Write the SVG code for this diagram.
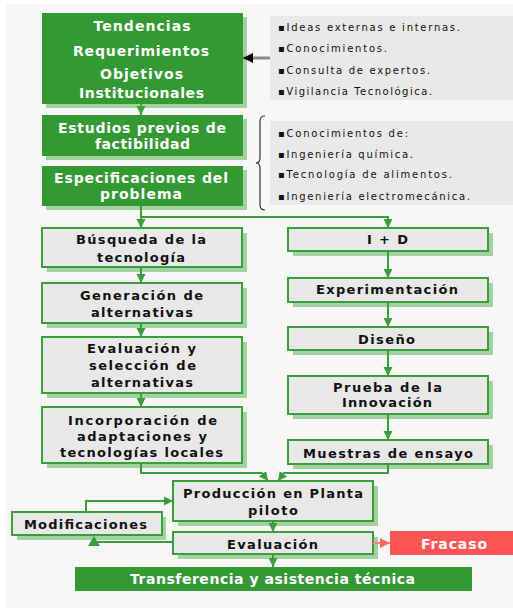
<svg xmlns="http://www.w3.org/2000/svg" width="513" height="610" viewBox="0 0 513 610">
<style>
.bg{fill:#f7f7f7}
.sh{fill:#a2d2a2}
.gbox{fill:#339933}
.box{fill:#e8e8e8;stroke:#3d9d3d;stroke-width:2}
.info{fill:#e9e9e9}
.wt{font-family:"DejaVu Sans",Verdana,sans-serif;font-weight:bold;font-size:14px;fill:#ffffff;text-anchor:middle}
.bt{font-family:"DejaVu Sans",Verdana,sans-serif;font-weight:bold;font-size:13px;fill:#111111;text-anchor:middle}
.it{font-family:"DejaVu Sans",Verdana,sans-serif;font-size:10px;fill:#111111}
.c{fill:none;stroke:#3d9d3d;stroke-width:2}
.ah{fill:#3d9d3d}
</style>
<defs>
<marker id="ag" viewBox="0 0 10 10" refX="10" refY="5" markerWidth="9" markerHeight="10" markerUnits="userSpaceOnUse" orient="auto"><path d="M0,0 L10,5 L0,10 z" fill="#3d9d3d"/></marker>
<marker id="ak" viewBox="0 0 10 10" refX="10" refY="5" markerWidth="12" markerHeight="10" markerUnits="userSpaceOnUse" orient="auto"><path d="M0,0 L10,5 L0,10 z" fill="#000000"/></marker>
<marker id="ar" viewBox="0 0 10 10" refX="10" refY="5" markerWidth="12" markerHeight="10" markerUnits="userSpaceOnUse" orient="auto"><path d="M0,0 L10,5 L0,10 z" fill="#ff6666"/></marker>
</defs>
<rect class="bg" x="6" y="4" width="507" height="604"/>

<g id="n-tendencias">
<rect class="sh" x="46" y="17" width="201" height="91"/>
<rect class="gbox" x="42" y="13" width="201" height="91"/>
<text class="wt" x="142" y="31" textLength="97" lengthAdjust="spacing">Tendencias</text>
<text class="wt" x="141" y="56" textLength="136" lengthAdjust="spacing">Requerimientos</text>
<text class="wt" x="141.5" y="79" textLength="83" lengthAdjust="spacing">Objetivos</text>
<text class="wt" x="141.5" y="98" textLength="125" lengthAdjust="spacing">Institucionales</text>
</g>

<g id="n-fuentes">
<rect class="info" x="270" y="16" width="243" height="84"/>
<text class="it" x="278" y="30.5" textLength="182" lengthAdjust="spacing">▪Ideas externas e internas.</text>
<text class="it" x="278" y="52" textLength="109" lengthAdjust="spacing">▪Conocimientos.</text>
<text class="it" x="278" y="73.5" textLength="152" lengthAdjust="spacing">▪Consulta de expertos.</text>
<text class="it" x="278" y="95" textLength="154" lengthAdjust="spacing">▪Vigilancia Tecnológica.</text>
</g>

<g id="n-estudios">
<rect class="sh" x="46" y="119" width="201" height="41"/>
<rect class="gbox" x="42" y="115" width="201" height="41"/>
<text class="wt" x="142" y="133" textLength="168" lengthAdjust="spacing">Estudios previos de</text>
<text class="wt" x="142.5" y="148.5" textLength="95" lengthAdjust="spacing">factibilidad</text>
</g>

<g id="n-especificaciones">
<rect class="sh" x="46" y="170" width="201" height="40"/>
<rect class="gbox" x="42" y="166" width="201" height="40"/>
<text class="wt" x="141" y="183" textLength="174" lengthAdjust="spacing">Especificaciones del</text>
<text class="wt" x="141" y="199" textLength="82" lengthAdjust="spacing">problema</text>
</g>

<g id="n-conocimientos">
<rect class="info" x="270" y="121" width="243" height="84"/>
<text class="it" x="278" y="136.5" textLength="130" lengthAdjust="spacing">▪Conocimientos de:</text>
<text class="it" x="278" y="157.5" textLength="135" lengthAdjust="spacing">▪Ingeniería química.</text>
<text class="it" x="278" y="177.5" textLength="174" lengthAdjust="spacing">▪Tecnología de alimentos.</text>
<text class="it" x="278" y="200" textLength="192" lengthAdjust="spacing">▪Ingeniería electromecánica.</text>
</g>

<g id="n-busqueda">
<rect class="sh" x="47" y="233" width="200" height="39"/>
<rect class="box" x="42" y="228" width="200" height="39"/>
<text class="bt" x="141" y="243.5" textLength="130" lengthAdjust="spacing">Búsqueda de la</text>
<text class="bt" x="141" y="261.5" textLength="88" lengthAdjust="spacing">tecnología</text>
</g>

<g id="n-generacion">
<rect class="sh" x="47" y="288" width="200" height="40"/>
<rect class="box" x="42" y="283" width="200" height="40"/>
<text class="bt" x="141.5" y="299.5" textLength="123" lengthAdjust="spacing">Generación de</text>
<text class="bt" x="142" y="316.5" textLength="102" lengthAdjust="spacing">alternativas</text>
</g>

<g id="n-evaluacion-seleccion">
<rect class="sh" x="47" y="342" width="200" height="56"/>
<rect class="box" x="42" y="337" width="200" height="56"/>
<text class="bt" x="141.5" y="353" textLength="109" lengthAdjust="spacing">Evaluación y</text>
<text class="bt" x="142.5" y="370" textLength="107" lengthAdjust="spacing">selección de</text>
<text class="bt" x="142" y="386.5" textLength="102" lengthAdjust="spacing">alternativas</text>
</g>

<g id="n-incorporacion">
<rect class="sh" x="47" y="412" width="200" height="56"/>
<rect class="box" x="42" y="407" width="200" height="56"/>
<text class="bt" x="142.5" y="424.5" textLength="149" lengthAdjust="spacing">Incorporación de</text>
<text class="bt" x="142" y="440.5" textLength="130" lengthAdjust="spacing">adaptaciones y</text>
<text class="bt" x="141.5" y="457" textLength="163" lengthAdjust="spacing">tecnologías locales</text>
</g>

<g id="n-id">
<rect class="sh" x="293" y="233" width="200" height="23"/>
<rect class="box" x="288" y="228" width="200" height="23"/>
<text class="bt" x="387.5" y="244" textLength="41" lengthAdjust="spacing">I + D</text>
</g>

<g id="n-experimentacion">
<rect class="sh" x="293" y="283" width="200" height="24"/>
<rect class="box" x="288" y="278" width="200" height="24"/>
<text class="bt" x="387" y="294" textLength="142" lengthAdjust="spacing">Experimentación</text>
</g>

<g id="n-diseno">
<rect class="sh" x="293" y="332" width="200" height="23"/>
<rect class="box" x="288" y="327" width="200" height="23"/>
<text class="bt" x="386.5" y="344" textLength="57" lengthAdjust="spacing">Diseño</text>
</g>

<g id="n-prueba">
<rect class="sh" x="293" y="381" width="200" height="38"/>
<rect class="box" x="288" y="376" width="200" height="38"/>
<text class="bt" x="387.5" y="392" textLength="109" lengthAdjust="spacing">Prueba de la</text>
<text class="bt" x="387" y="407" textLength="90" lengthAdjust="spacing">Innovación</text>
</g>

<g id="n-muestras">
<rect class="sh" x="293" y="445" width="200" height="24"/>
<rect class="box" x="288" y="440" width="200" height="24"/>
<text class="bt" x="388" y="458" textLength="170" lengthAdjust="spacing">Muestras de ensayo</text>
</g>

<g id="n-produccion">
<rect class="sh" x="178" y="486" width="200" height="40"/>
<rect class="box" x="173" y="481" width="200" height="40"/>
<text class="bt" x="273" y="497.5" textLength="180" lengthAdjust="spacing">Producción en Planta</text>
<text class="bt" x="273" y="514.5" textLength="50" lengthAdjust="spacing">piloto</text>
</g>

<g id="n-modificaciones">
<rect class="sh" x="17" y="517" width="149" height="23"/>
<rect class="box" x="12" y="512" width="150" height="23"/>
<text class="bt" x="85.5" y="529" textLength="123" lengthAdjust="spacing">Modificaciones</text>
</g>

<g id="n-evaluacion">
<rect class="sh" x="178" y="537" width="200" height="22"/>
<rect class="box" x="173" y="532" width="200" height="22"/>
<text class="bt" x="272.5" y="548.5" textLength="91" lengthAdjust="spacing">Evaluación</text>
</g>

<g id="n-fracaso">
<rect x="390" y="531" width="123" height="24" fill="#ff5555"/>
<text class="wt" x="454" y="548.5" textLength="66" lengthAdjust="spacing">Fracaso</text>
</g>

<g id="n-transferencia">
<rect class="gbox" x="75" y="567" width="397" height="24"/>
<text class="wt" x="272.5" y="584" textLength="285" lengthAdjust="spacing">Transferencia y asistencia técnica</text>
</g>

<g id="connectors">
<path class="c" d="M141,104 V115" marker-end="url(#ag)"/>
<path class="c" d="M141,206 V228" marker-end="url(#ag)"/>
<path class="c" d="M141,217 H388 V228" marker-end="url(#ag)"/>
<path class="c" d="M141,267 V283" marker-end="url(#ag)"/>
<path class="c" d="M141,323 V337" marker-end="url(#ag)"/>
<path class="c" d="M141,393 V407" marker-end="url(#ag)"/>
<path class="c" d="M388,251 V278" marker-end="url(#ag)"/>
<path class="c" d="M388,302 V327" marker-end="url(#ag)"/>
<path class="c" d="M388,350 V376" marker-end="url(#ag)"/>
<path class="c" d="M388,414 V440" marker-end="url(#ag)"/>
<path class="c" d="M141,463 V473 H262 L268,481" marker-end="url(#ag)"/>
<path class="c" d="M388,464 V473 H284 L278,481" marker-end="url(#ag)"/>
<path class="c" d="M86,512 V501 H173" marker-end="url(#ag)"/>
<path class="c" d="M173,542 H96"/>
<polygon class="ah" points="88,546 100,546 94,536"/>
<path class="c" d="M273,521 V532" marker-end="url(#ag)"/>
<path class="c" d="M273,554 V567" marker-end="url(#ag)"/>
<path d="M373,543 H390" fill="none" stroke="#ff8080" stroke-width="2" marker-end="url(#ar)"/>
<path d="M270,58 H243" fill="none" stroke="#888888" stroke-width="3" marker-end="url(#ak)"/>
<path d="M265,116 Q260,116 260,121 V158 Q260,163 256,163 Q260,163 260,168 V205 Q260,210 265,210" fill="none" stroke="#333333" stroke-width="1.2"/>
</g>
</svg>
